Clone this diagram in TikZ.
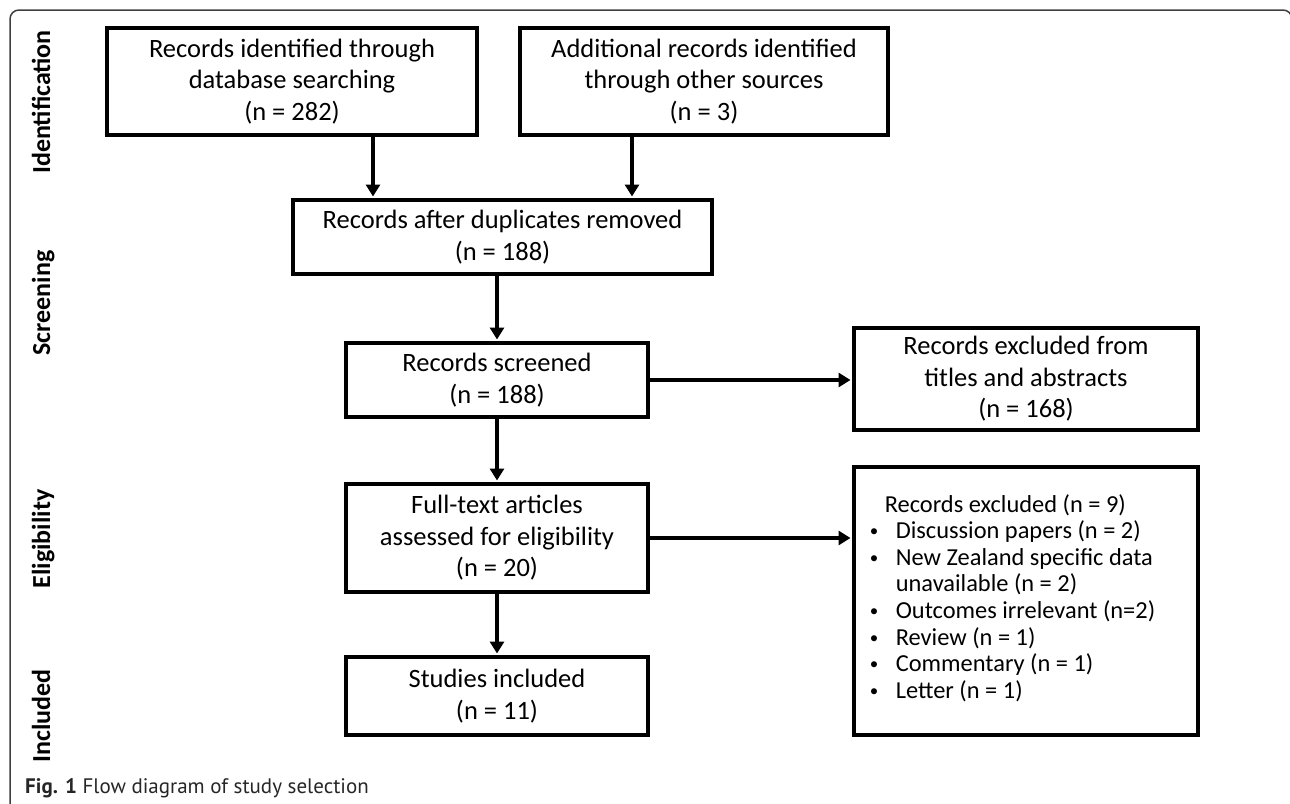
\documentclass[tikz,border=0pt]{standalone}
\usepackage{fontspec}
\setmainfont{Carlito}
\newfontfamily\capfont{PT Sans}
\usetikzlibrary{arrows.meta}
\newcommand{\blt}{\makebox[29pt][l]{\hspace*{3pt}\raisebox{2pt}{\fontsize{17}{17}\selectfont •}}}
\begin{document}
\begin{tikzpicture}[x=1pt,y=-1pt,
  box/.style={draw=black, line width=4pt, inner sep=0pt, align=center,
    font=\fontsize{26.5}{31.6}\selectfont},
  arr/.style={line width=4pt, -{Triangle[width=14pt,length=12pt]}, shorten >=1.5pt},
  lab/.style={rotate=90, anchor=base, inner sep=0pt,
    font=\bfseries\fontsize{26}{31}\selectfont},
  frame/.style={line width=1.5pt, draw=black!75, rounded corners=9pt}]
\useasboundingbox (0,0) rectangle (1290,803);
\begin{scope}
  \clip (0,0) rectangle (1290,803);
  \draw[frame] (10,840) -- (10,10) -- (1292,10) -- (1292,840);
\end{scope}

% side labels
\node[lab] (lid) at (50,102) {Identification};
\node[lab] (lsc) at (50,303) {Screening};
\node[lab] (lel) at (50,539) {Eligibility};
\node[lab] (lin) at (50,716) {Included};

% boxes
\node[box, minimum width=370, minimum height=107] (db) at (292,81.5)
  {Records identified through\\database searching\\(n = 282)};
\node[box, minimum width=368, minimum height=107] (other) at (704,81.5)
  {Additional records identified\\through other sources\\(n = 3)};
\node[box, minimum width=419, minimum height=74] (dup) at (502.5,237)
  {Records after duplicates removed\\(n = 188)};
\node[box, minimum width=302, minimum height=74] (scr) at (497,380)
  {Records screened\\(n = 188)};
\node[box, minimum width=344, minimum height=102] (exc1) at (1026,379)
  {Records excluded from\\titles and abstracts\\(n = 168)};
\node[box, minimum width=302, minimum height=108] (full) at (497,538)
  {Full-text articles\\assessed for eligibility\\(n = 20)};
\node[box, minimum width=302, minimum height=78] (inc) at (497,696)
  {Studies included\\(n = 11)};
\node[box, minimum width=344, minimum height=268] (exc2) at (1026,601) {};
\node[inner sep=0pt, align=left, font=\fontsize{24.4}{26.6}\selectfont] (exc2txt) at (1011,598)
  {\makebox[277pt][c]{Records excluded (n = 9)}\\
   \blt Discussion papers (n = 2)\\
   \blt New Zealand specific data\\
   \hspace*{29pt}unavailable (n = 2)\\
   \blt Outcomes irrelevant (n=2)\\
   \blt Review (n = 1)\\
   \blt Commentary (n = 1)\\
   \blt Letter (n = 1)};

% connectors
\coordinate (a1) at (373,0);
\coordinate (a2) at (632,0);
\draw[arr] (db.south -| a1) -- (dup.north -| a1);
\draw[arr] (other.south -| a2) -- (dup.north -| a2);
\draw[arr] (dup.south -| scr.north) -- (scr.north);
\draw[arr] (scr.south) -- (full.north);
\draw[arr] (full.south) -- (inc.north);
\draw[arr] (scr.east) -- (scr.east -| exc1.west);
\draw[arr] (full.east) -- (full.east -| exc2.west);

% caption
\node[anchor=base west, inner sep=0pt, text=black!85,
  font=\capfont\fontsize{21}{25}\selectfont] (cap) at (25,793)
  {\textbf{Fig. 1} Flow diagram of study selection};
\end{tikzpicture}
\end{document}
